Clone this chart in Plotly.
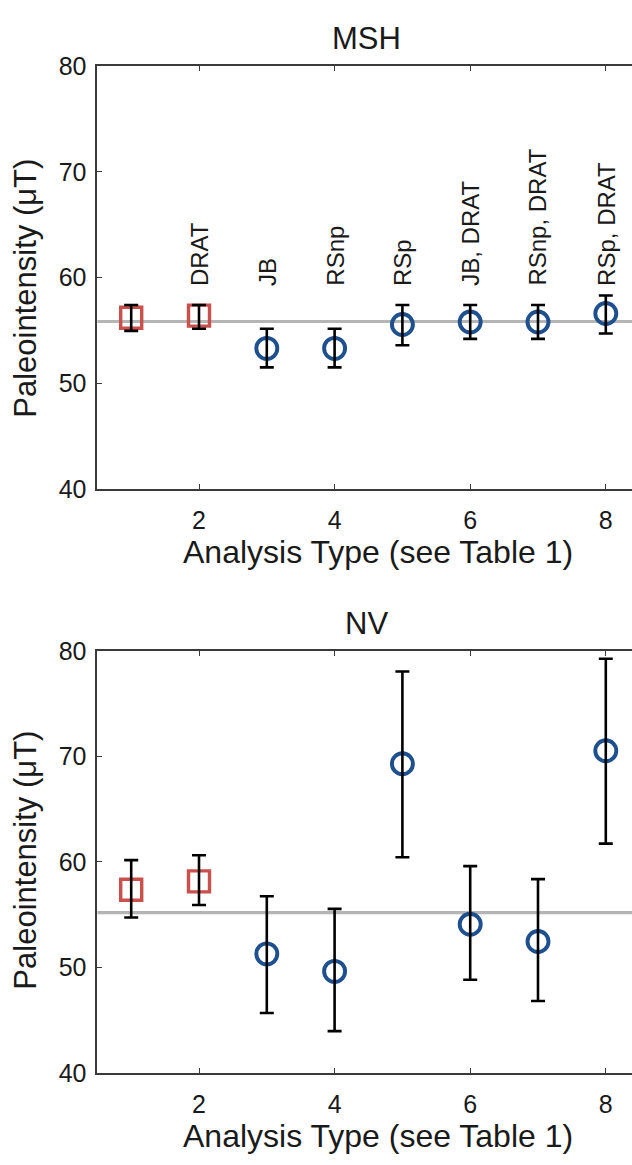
import plotly.graph_objects as go

# ---------------- data ----------------
analysis_type = [1, 2, 3, 4, 5, 6, 7, 8]
labels = ["", "DRAT", "JB", "RSnp", "RSp", "JB, DRAT", "RSnp, DRAT", "RSp, DRAT"]

msh_val = [56.2, 56.4, 53.3, 53.3, 55.55, 55.8, 55.8, 56.6]
msh_hi = [57.4, 57.4, 55.15, 55.15, 57.4, 57.4, 57.4, 58.3]
msh_lo = [54.95, 55.15, 51.5, 51.5, 53.6, 54.2, 54.2, 54.7]
msh_ref = 55.84

nv_val = [57.36, 58.16, 51.29, 49.63, 69.31, 54.09, 52.46, 70.54]
nv_hi = [60.17, 60.63, 56.75, 55.55, 78.06, 59.61, 58.37, 79.26]
nv_lo = [54.74, 55.92, 45.68, 43.96, 60.44, 48.83, 46.82, 61.74]
nv_ref = 55.2

square_idx = [0, 1]
circle_idx = [2, 3, 4, 5, 6, 7]

y_ticks = [40, 50, 60, 70, 80]
x_ticks = [2, 4, 6, 8]

# ---------------- style / layout ----------------
W, H = 632, 1165
RED = "#C9504B"
BLUE = "#1E4F8E"
GREY = "#B5B5B5"
AX = "#3a3a3a"
TXT = "#1a1a1a"
FONT = "Liberation Sans, Arial, sans-serif"

left_px = 97.3
px_per_unit = 67.8
x_min = 0.5
x_max_visible = x_min + (W - left_px) / px_per_unit

panels = [
    dict(name="MSH", val=msh_val, hi=msh_hi, lo=msh_lo, ref=msh_ref, top=53.3, bot=486.7,
         ytitle_c=281.5, show_labels=True),
    dict(name="NV", val=nv_val, hi=nv_hi, lo=nv_lo, ref=nv_ref, top=652.7, bot=1085.0,
         ytitle_c=867.5, show_labels=False),
]

fig = go.Figure()
annotations = []

for k, p in enumerate(panels):
    sfx = "" if k == 0 else str(k + 1)
    xa, ya = "x" + sfx, "y" + sfx
    ydom = [1 - p["bot"] / H, 1 - p["top"] / H]

    fig.add_trace(go.Scatter(
        x=[x_min, 8.5], y=[p["ref"], p["ref"]], mode="lines",
        line=dict(color=GREY, width=3.2), xaxis=xa, yaxis=ya,
        showlegend=False, hoverinfo="skip"))

    for idx, sym, col in [(square_idx, "square-open", RED), (circle_idx, "circle-open", BLUE)]:
        fig.add_trace(go.Scatter(
            x=[analysis_type[i] for i in idx], y=[p["val"][i] for i in idx],
            mode="markers",
            marker=dict(symbol=sym, size=21, color=col,
                        line=dict(width=3.9 if sym.startswith("circle") else 3.4, color=col)),
            xaxis=xa, yaxis=ya, showlegend=False))

    fig.add_trace(go.Scatter(
        x=analysis_type, y=p["val"], mode="markers",
        marker=dict(size=1, color="rgba(0,0,0,0)"),
        error_y=dict(type="data", symmetric=False,
                     array=[h - v for h, v in zip(p["hi"], p["val"])],
                     arrayminus=[v - l for v, l in zip(p["val"], p["lo"])],
                     color="black", thickness=2.6, width=7),
        xaxis=xa, yaxis=ya, showlegend=False, hoverinfo="skip"))

    axis_common = dict(showgrid=False, zeroline=False, showline=True, linecolor=AX, linewidth=1.6,
                       ticks="inside", ticklen=5, tickcolor=AX, tickwidth=1.3,
                       tickfont=dict(size=25, color=TXT, family=FONT))
    fig.update_layout(**{
        ("xaxis" + sfx): dict(domain=[left_px / W, 1], range=[x_min, x_max_visible],
                               tickvals=x_ticks, mirror="ticks", anchor=ya,
                               ticklabelstandoff=8, **axis_common),
        ("yaxis" + sfx): dict(domain=ydom, range=[40, 80], tickvals=y_ticks, mirror=False,
                               anchor=xa, ticklabelstandoff=4, **axis_common),
    })

    annotations.append(dict(text=p["name"], xref="paper", yref="paper",
                            x=366 / W, y=1 - (p["top"] - 28) / H,
                            xanchor="center", yanchor="middle", showarrow=False,
                            font=dict(size=31, color=TXT, family=FONT)))
    annotations.append(dict(text="Analysis Type (see Table 1)", xref="paper", yref="paper",
                            x=(181 + 574) / 2 / W, y=1 - (p["bot"] + 65) / H,
                            xanchor="center", yanchor="middle", showarrow=False,
                            font=dict(size=32, color=TXT, family=FONT)))
    annotations.append(dict(text="Paleointensity (\u03bcT)", xref="paper", yref="paper",
                            x=26 / W, y=1 - p["ytitle_c"] / H, textangle=-90,
                            xanchor="center", yanchor="middle", showarrow=False,
                            font=dict(size=31, color=TXT, family=FONT)))

    if p["show_labels"]:
        for xv, lab in zip(analysis_type, labels):
            if lab:
                annotations.append(dict(text=lab, x=xv, y=59.0, xref=xa, yref=ya,
                                        textangle=-90, xanchor="center", yanchor="bottom",
                                        showarrow=False, font=dict(size=24, color=TXT, family=FONT)))

fig.update_layout(width=W, height=H, margin=dict(l=0, r=0, t=0, b=0),
                  plot_bgcolor="white", paper_bgcolor="white",
                  annotations=annotations, showlegend=False)

fig.write_html(
    "out.html",
    config={"displayModeBar": False},
    post_script=("document.body.style.margin='0';"
                 "document.body.style.overflow='hidden';"
                 "document.documentElement.style.overflow='hidden';"),
)
